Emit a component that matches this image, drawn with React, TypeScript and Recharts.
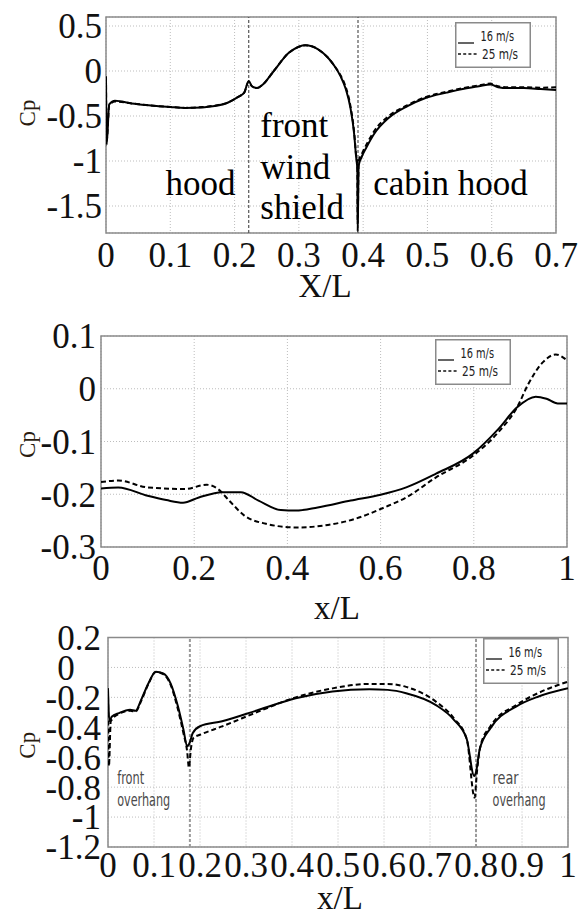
import React from 'react';
import {
  LineChart,
  Line,
  XAxis,
  YAxis,
  CartesianGrid,
  ReferenceLine,
  ReferenceArea,
  ReferenceDot,
  Legend,
} from 'recharts';

const SERIF = '"Liberation Serif", "Times New Roman", Times, serif';
const NARROW = '"DejaVu Sans Condensed", "Liberation Sans Narrow", "DejaVu Sans", sans-serif';

const seriesNames = ['16 m/s', '25 m/s'];

// ---------- Panel 1 (roof line: hood / windshield / cabin hood) ----------
const p1XTicks = [0, 0.1, 0.2, 0.3, 0.4, 0.5, 0.6, 0.7];
const p1YTicks = [0.5, 0, -0.5, -1, -1.5];
const p1Dividers = [0.222, 0.392];
const p1V16 = [
  [0, -0.06], [0.001, -0.82], [0.005, -0.37], [0.014, -0.33], [0.04, -0.36], [0.066, -0.38],
  [0.1, -0.4], [0.123, -0.41], [0.15, -0.405], [0.169, -0.39], [0.19, -0.35], [0.205, -0.29],
  [0.215, -0.24], [0.222, -0.11], [0.227, -0.17], [0.235, -0.19], [0.244, -0.15], [0.261, 0.0],
  [0.284, 0.2], [0.3, 0.27], [0.31, 0.285], [0.32, 0.275], [0.33, 0.24], [0.345, 0.15],
  [0.355, 0.06], [0.365, -0.06], [0.373, -0.2], [0.38, -0.4], [0.386, -0.7], [0.389, -0.95],
  [0.391, -1.1], [0.3915, -1.78], [0.393, -1.05], [0.398, -0.95], [0.405, -0.85], [0.417, -0.7],
  [0.44, -0.52], [0.469, -0.39], [0.497, -0.3], [0.53, -0.24], [0.555, -0.2], [0.58, -0.17],
  [0.598, -0.15], [0.61, -0.18], [0.625, -0.19], [0.65, -0.19], [0.676, -0.2], [0.7, -0.21],
];
const p1V25 = [
  [0, -0.06], [0.001, -0.78], [0.005, -0.38], [0.014, -0.34], [0.04, -0.36], [0.066, -0.38],
  [0.1, -0.4], [0.123, -0.41], [0.15, -0.4], [0.169, -0.385], [0.19, -0.35], [0.205, -0.29],
  [0.215, -0.24], [0.222, -0.12], [0.227, -0.17], [0.235, -0.19], [0.244, -0.15], [0.261, 0.0],
  [0.284, 0.2], [0.3, 0.27], [0.31, 0.285], [0.32, 0.275], [0.33, 0.24], [0.345, 0.15],
  [0.355, 0.06], [0.365, -0.05], [0.373, -0.18], [0.38, -0.38], [0.386, -0.68], [0.389, -0.93],
  [0.391, -1.05], [0.3915, -1.7], [0.393, -1.0], [0.398, -0.92], [0.405, -0.82], [0.417, -0.67],
  [0.44, -0.5], [0.469, -0.38], [0.497, -0.29], [0.53, -0.23], [0.555, -0.19], [0.58, -0.16],
  [0.598, -0.14], [0.61, -0.17], [0.625, -0.18], [0.65, -0.18], [0.676, -0.185], [0.7, -0.18],
];
const p1Notes = [
  { x: 0.147, y: -1.378, text: 'hood', anchor: 'middle' },
  { x: 0.24, y: -0.737, text: 'front', anchor: 'start' },
  { x: 0.24, y: -1.196, text: 'wind', anchor: 'start' },
  { x: 0.24, y: -1.64, text: 'shield', anchor: 'start' },
  { x: 0.536, y: -1.373, text: 'cabin hood', anchor: 'middle' },
];

// ---------- Panel 2 ----------
const p2XTicks = [0, 0.2, 0.4, 0.6, 0.8, 1];
const p2YTicks = [0.1, 0, -0.1, -0.2, -0.3];
const p2V16 = [
  [0, -0.189], [0.037, -0.187], [0.1, -0.203], [0.14, -0.211], [0.176, -0.216], [0.21, -0.206],
  [0.26, -0.196], [0.3, -0.196], [0.338, -0.212], [0.386, -0.23], [0.418, -0.231], [0.465, -0.225],
  [0.536, -0.212], [0.6, -0.201], [0.655, -0.187], [0.719, -0.161], [0.798, -0.123], [0.853, -0.076],
  [0.893, -0.035], [0.933, -0.015], [0.956, -0.019], [0.98, -0.028], [1.0, -0.028],
];
const p2V25 = [
  [0, -0.177], [0.037, -0.174], [0.1, -0.187], [0.18, -0.19], [0.227, -0.182], [0.251, -0.19],
  [0.275, -0.212], [0.307, -0.24], [0.354, -0.256], [0.418, -0.263], [0.481, -0.259], [0.544, -0.247],
  [0.608, -0.225], [0.655, -0.206], [0.719, -0.168], [0.798, -0.127], [0.853, -0.082], [0.893, -0.035],
  [0.917, 0.009], [0.949, 0.051], [0.976, 0.065], [1.0, 0.054],
];

// ---------- Panel 3 ----------
const p3XTicks = [0, 0.1, 0.2, 0.3, 0.4, 0.5, 0.6, 0.7, 0.8, 0.9, 1];
const p3YTicks = [0.2, 0, -0.2, -0.4, -0.6, -0.8, -1, -1.2];
const p3Dividers = [0.178, 0.8];
const p3V16 = [
  [0, -0.14], [0.003, -0.36], [0.008, -0.33], [0.024, -0.305], [0.048, -0.283], [0.06, -0.29],
  [0.072, -0.217], [0.088, -0.106], [0.104, -0.029], [0.12, -0.04], [0.136, -0.106], [0.152, -0.26],
  [0.164, -0.415], [0.172, -0.526], [0.178, -0.5], [0.184, -0.44], [0.2, -0.393], [0.248, -0.36],
  [0.328, -0.283], [0.408, -0.206], [0.488, -0.161], [0.568, -0.146], [0.608, -0.15], [0.648, -0.172],
  [0.712, -0.25], [0.752, -0.35], [0.78, -0.48], [0.796, -0.725], [0.8, -0.7], [0.808, -0.548],
  [0.832, -0.404], [0.888, -0.26], [0.936, -0.194], [1.0, -0.139],
];
const p3V25 = [
  [0, -0.14], [0.002, -0.66], [0.006, -0.36], [0.024, -0.31], [0.048, -0.29], [0.06, -0.295],
  [0.072, -0.225], [0.088, -0.11], [0.104, -0.03], [0.12, -0.045], [0.136, -0.115], [0.152, -0.28],
  [0.164, -0.44], [0.172, -0.56], [0.176, -0.67], [0.18, -0.55], [0.186, -0.47], [0.2, -0.45],
  [0.248, -0.394], [0.328, -0.294], [0.408, -0.2], [0.488, -0.14], [0.568, -0.11], [0.608, -0.11],
  [0.648, -0.13], [0.712, -0.227], [0.752, -0.34], [0.78, -0.48], [0.797, -0.87], [0.802, -0.7],
  [0.81, -0.52], [0.832, -0.39], [0.888, -0.25], [0.936, -0.17], [1.0, -0.095],
];
const p3Notes = [
  { x: 0.02, y: -0.779, text: 'front', len: 27 },
  { x: 0.02, y: -0.926, text: 'overhang', len: 53 },
  { x: 0.836, y: -0.779, text: 'rear', len: 26 },
  { x: 0.836, y: -0.926, text: 'overhang', len: 53 },
];

const toPts = (pairs: number[][]) => pairs.map(([x, cp]) => ({ x, cp }));

const LegendBox = (props: any) => {
  const payload = props.payload || [];
  return (
    <svg width={76} height={46} style={{ display: 'block' }}>
      <rect x={0.75} y={0.75} width={74.5} height={44.5} fill="#fff" stroke="#8a8a8a" strokeWidth={1.5} />
      {payload.map((e: any, i: number) => {
        const dashed = !!(e.payload && e.payload.strokeDasharray);
        return (
          <g key={i}>
            <line
              x1={3}
              x2={dashed ? 22 : 19}
              y1={dashed ? 32 : 21}
              y2={dashed ? 32 : 21}
              stroke="#111"
              strokeWidth={1.3}
              strokeDasharray={dashed ? '3 2.2' : undefined}
            />
            <text
              x={dashed ? 27 : 25.5}
              y={dashed ? 37 : 18.5}
              fontSize={14}
              fontFamily={NARROW}
              fill="#222"
              textLength={dashed ? 36 : 33.5}
              lengthAdjust="spacingAndGlyphs"
            >
              {e.value}
            </text>
          </g>
        );
      })}
    </svg>
  );
};

type PanelProps = {
  top: number;
  height: number;
  mTop: number;
  mRight: number;
  yWidth: number;
  xHeight: number;
  xDomain: number[];
  yDomain: number[];
  xTicks: number[];
  yTicks: number[];
  s16: number[][];
  s25: number[][];
  dividers: number[];
  dividerStroke: string;
  dividerWidth: number;
  xTitle: string;
  xTitleDx: number;
  xTitleDy: number;
  cpDy: number;
  xTickMargin: number;
  yTickMargin: number;
  yFmt?: (v: number) => string;
  legendLeft: number;
  legendTop: number;
  notes: React.ReactNode;
};

function Panel(p: PanelProps) {
  const xTitle = (lp: any) => {
    const vb = lp.viewBox || {};
    return (
      <text
        x={vb.x + vb.width / 2 + p.xTitleDx}
        y={vb.y + p.xTitleDy}
        textAnchor="middle"
        fontSize={33}
        fontFamily={SERIF}
        fill="#111"
      >
        {p.xTitle}
      </text>
    );
  };
  const yTitle = (lp: any) => {
    const vb = lp.viewBox || {};
    const cx = vb.x + 27;
    const cy = vb.y + vb.height / 2 + p.cpDy;
    return (
      <text
        x={cx}
        y={cy}
        transform={`rotate(-90 ${cx} ${cy})`}
        textAnchor="middle"
        dominantBaseline="central"
        fontSize={23}
        fontFamily={SERIF}
        fill="#2a1c10"
      >
        Cp
      </text>
    );
  };
  return (
    <div style={{ position: 'absolute', left: 0, top: p.top, width: 580, height: p.height }}>
      <LineChart width={580} height={p.height} margin={{ top: p.mTop, right: p.mRight, bottom: 0, left: 0 }}>
        <CartesianGrid stroke="#bdbdbd" strokeDasharray="1 2" strokeWidth={1} />
        <XAxis
          type="number"
          dataKey="x"
          domain={p.xDomain}
          ticks={p.xTicks}
          interval={0}
          allowDataOverflow
          height={p.xHeight}
          axisLine={false}
          tickLine={false}
          tickSize={0}
          tickMargin={p.xTickMargin}
          tick={{ fontSize: 35, fill: '#111', fontFamily: SERIF }}
          tickFormatter={(v: number) => String(v)}
          label={{ content: xTitle }}
        />
        <YAxis
          type="number"
          domain={p.yDomain}
          ticks={p.yTicks}
          interval={0}
          allowDataOverflow
          width={p.yWidth}
          axisLine={false}
          tickLine={false}
          tickSize={0}
          tickMargin={p.yTickMargin}
          tick={{ fontSize: 35, fill: '#111', fontFamily: SERIF }}
          tickFormatter={p.yFmt || ((v: number) => String(v))}
          label={{ content: yTitle }}
        />
        <ReferenceArea
          x1={p.xDomain[0]}
          x2={p.xDomain[1]}
          y1={p.yDomain[0]}
          y2={p.yDomain[1]}
          fill="none"
          fillOpacity={0}
          stroke="#8a8a8a"
          strokeWidth={1.5}
        />
        {p.dividers.map((d) => (
          <ReferenceLine
            key={d}
            x={d}
            stroke={p.dividerStroke}
            strokeWidth={p.dividerWidth}
            strokeDasharray="3 2"
          />
        ))}
        {p.notes}
        <Line
          data={toPts(p.s16)}
          dataKey="cp"
          name={seriesNames[0]}
          type="monotone"
          stroke="#000"
          strokeWidth={2}
          dot={false}
          isAnimationActive={false}
        />
        <Line
          data={toPts(p.s25)}
          dataKey="cp"
          name={seriesNames[1]}
          type="monotone"
          stroke="#000"
          strokeWidth={2}
          strokeDasharray="5 3"
          dot={false}
          isAnimationActive={false}
        />
        <Legend
          layout="vertical"
          align="center"
          verticalAlign="middle"
          content={LegendBox}
          wrapperStyle={{ position: 'absolute', left: p.legendLeft, top: p.legendTop, width: 76, height: 46, margin: 0, padding: 0 }}
        />
      </LineChart>
    </div>
  );
}

const serifNote = (n: any) => (sp: any) => (
  <text x={sp.cx} y={sp.cy} textAnchor={n.anchor} fontSize={35} fontFamily={SERIF} fill="#000">
    {n.text}
  </text>
);

const narrowNote = (n: any) => (sp: any) => (
  <text
    x={sp.cx}
    y={sp.cy}
    textAnchor="start"
    fontSize={18}
    fontFamily={NARROW}
    fill="#4a4a4a"
    textLength={n.len}
    lengthAdjust="spacingAndGlyphs"
  >
    {n.text}
  </text>
);

export default function App() {
  return (
    <div style={{ position: 'absolute', left: 0, top: 0, width: 580, height: 915, background: '#fff', overflow: 'hidden' }}>
      <Panel
        top={0}
        height={308}
        mTop={17}
        mRight={24}
        yWidth={106}
        xHeight={75}
        xDomain={[0, 0.7]}
        yDomain={[-1.8, 0.6]}
        xTicks={p1XTicks}
        yTicks={p1YTicks}
        s16={p1V16}
        s25={p1V25}
        dividers={p1Dividers}
        dividerStroke="#555"
        dividerWidth={1.2}
        xTitle="X/L"
        xTitleDx={-6}
        xTitleDy={64}
        cpDy={-12}
        xTickMargin={9}
        yTickMargin={4}
        legendLeft={455}
        legendTop={22}
        notes={p1Notes.map((n) => (
          <ReferenceDot key={n.text} x={n.x} y={n.y} r={1} fill="none" stroke="none" shape={serifNote(n)} />
        ))}
      />
      <Panel
        top={300}
        height={330}
        mTop={36}
        mRight={13}
        yWidth={101}
        xHeight={83}
        xDomain={[0, 1]}
        yDomain={[-0.3, 0.1]}
        xTicks={p2XTicks}
        yTicks={p2YTicks}
        s16={p2V16}
        s25={p2V25}
        dividers={[]}
        dividerStroke="#555"
        dividerWidth={1.2}
        xTitle="x/L"
        xTitleDx={3}
        xTitleDy={72}
        cpDy={3}
        xTickMargin={8}
        yTickMargin={5}
        legendLeft={435}
        legendTop={39}
        notes={null}
      />
      <Panel
        top={615}
        height={300}
        mTop={22.5}
        mRight={12}
        yWidth={108}
        xHeight={68}
        xDomain={[0, 1]}
        yDomain={[-1.2, 0.2]}
        xTicks={p3XTicks}
        yTicks={p3YTicks}
        s16={p3V16}
        s25={p3V25}
        dividers={p3Dividers}
        dividerStroke="#9a9a9a"
        dividerWidth={2}
        xTitle="x/L"
        xTitleDx={2}
        xTitleDy={62}
        cpDy={3}
        xTickMargin={5}
        yTickMargin={7}
        yFmt={(v: number) => (v === 0 ? '0\u2007\u2008' : String(v))}
        legendLeft={483}
        legendTop={23}
        notes={p3Notes.map((n, i) => (
          <ReferenceDot key={i} x={n.x} y={n.y} r={1} fill="none" stroke="none" shape={narrowNote(n)} />
        ))}
      />
    </div>
  );
}
